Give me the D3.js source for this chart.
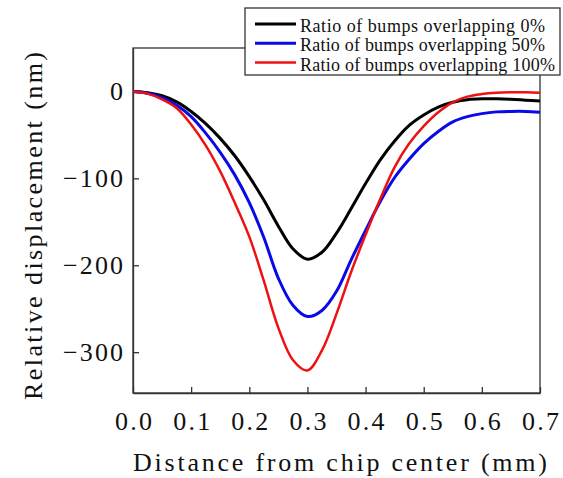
<!DOCTYPE html>
<html>
<head>
<meta charset="utf-8">
<script src="https://cdn.jsdelivr.net/npm/d3@7"></script>
<style>
  body { margin: 0; background: #fff; }
  text { font-family: "Liberation Serif", "Times New Roman", serif; fill: #111; }
</style>
</head>
<body>
<div id="chart"></div>
<script>
// distance from chip center (mm)
const xs = [0, 0.025, 0.05, 0.075, 0.1, 0.125, 0.15, 0.175, 0.2, 0.225, 0.25, 0.275, 0.3,
            0.325, 0.35, 0.375, 0.4, 0.425, 0.45, 0.475, 0.5, 0.525, 0.55, 0.575, 0.6,
            0.625, 0.65, 0.675, 0.7];

// relative displacement (nm)
const overlap0 = [0, -1.5, -5, -12, -23, -37, -54, -74, -98, -125, -155, -181, -193,
                  -185, -163, -135, -106, -79, -57, -39, -27, -18, -12.5, -9.5, -8.5,
                  -8.5, -9, -10, -11];
const overlap50 = [0, -2, -7, -16, -29, -48, -70, -96, -128, -168, -215, -246, -259,
                   -252, -230, -194, -160, -127, -99, -78, -60, -46, -35, -29, -25.5,
                   -23.5, -23, -23, -24];
const overlap100 = [0, -2.5, -9, -19, -38, -62, -92, -128, -167, -218, -272, -309, -321,
                    -298, -256, -208, -165, -124, -87, -60, -40, -24, -12.5, -6, -3,
                    -1.5, -1, -1, -1.5];

const seriesNames = ["Ratio of bumps overlapping 0%", "Ratio of bumps overlapping 50%", "Ratio of bumps overlapping 100%"];
const seriesColors = ["#000000", "#0a0ae6", "#ee1111"];
const xTicks = [0, 0.1, 0.2, 0.3, 0.4, 0.5, 0.6, 0.7];
const yTicks = [0, -100, -200, -300];
const xTitle = "Distance from chip center (mm)";
const yTitle = "Relative displacement (nm)";

const W = 563, H = 478;
const margin = {top: 48, right: 23, bottom: 85, left: 133};
const width = W - margin.left - margin.right,
      height = H - margin.top - margin.bottom;

const svg = d3.select("#chart").append("svg")
    .attr("width", W)
    .attr("height", H);

const g = svg.append("g")
    .attr("transform", "translate(" + margin.left + "," + margin.top + ")");

const x = d3.scaleLinear().domain([0, 0.7]).range([0, width]);
const y = d3.scaleLinear().domain([-347, 50]).range([height, 0]);

// frame
g.append("rect")
    .attr("width", width)
    .attr("height", height)
    .attr("fill", "none")
    .attr("stroke", "#333")
    .attr("stroke-width", 1.3);

const xAxis = g.append("g")
    .attr("transform", "translate(0," + height + ")")
    .call(d3.axisBottom(x).tickValues(xTicks).tickFormat(d3.format(".1f"))
        .tickSize(-6).tickSizeOuter(0).tickPadding(19));
xAxis.select(".domain").attr("stroke", "#333").attr("stroke-width", 1.3);
xAxis.selectAll(".tick line").attr("stroke", "#333").attr("stroke-width", 1.3);
xAxis.selectAll(".tick text")
    .attr("font-size", 26)
    .attr("font-family", "Liberation Serif")
    .attr("fill", "#111")
    .attr("textLength", 37)
    .attr("lengthAdjust", "spacing");

const yAxis = g.append("g")
    .call(d3.axisLeft(y).tickValues(yTicks).tickFormat(d3.format("d"))
        .tickSize(-6).tickSizeOuter(0).tickPadding(10));
yAxis.select(".domain").attr("stroke", "#333").attr("stroke-width", 1.3);
yAxis.selectAll(".tick line").attr("stroke", "#333").attr("stroke-width", 1.3);
yAxis.selectAll(".tick text")
    .attr("font-size", 26)
    .attr("font-family", "Liberation Serif")
    .attr("fill", "#111")
    .each(function(d) {
        if (d !== 0) d3.select(this).attr("textLength", 60).attr("lengthAdjust", "spacing");
    });

// curves
const allSeries = [overlap0, overlap50, overlap100];
const line = d3.line()
    .x((d, i) => x(xs[i]))
    .y(d => y(d))
    .curve(d3.curveCatmullRom.alpha(0.5));

const widths = [3, 3, 2.5];
g.selectAll(".curve")
    .data(allSeries)
    .enter().append("path")
    .attr("class", "curve")
    .attr("d", d => line(d))
    .attr("fill", "none")
    .attr("stroke", (d, i) => seriesColors[i])
    .attr("stroke-width", (d, i) => widths[i])
    .attr("stroke-linejoin", "round");

// axis titles
svg.append("text")
    .attr("x", 340)
    .attr("y", 471)
    .attr("text-anchor", "middle")
    .attr("font-size", 26)
    .attr("textLength", 414)
    .attr("lengthAdjust", "spacing")
    .text(xTitle);

svg.append("text")
    .attr("transform", "translate(42,226) rotate(-90)")
    .attr("text-anchor", "middle")
    .attr("font-size", 26)
    .attr("textLength", 348)
    .attr("lengthAdjust", "spacing")
    .text(yTitle);

// legend
const legend = svg.append("g");
legend.append("rect")
    .attr("x", 245)
    .attr("y", 8)
    .attr("width", 315)
    .attr("height", 67)
    .attr("fill", "#fff")
    .attr("stroke", "#333")
    .attr("stroke-width", 1.3);

const rows = legend.selectAll(".row")
    .data(seriesNames)
    .enter().append("g")
    .attr("transform", (d, i) => "translate(0," + (24 + i * 19.3) + ")");

rows.append("line")
    .attr("x1", 255).attr("x2", 296)
    .attr("stroke", (d, i) => seriesColors[i])
    .attr("stroke-width", (d, i) => widths[i]);

rows.append("text")
    .attr("x", 300)
    .attr("y", 8)
    .attr("font-size", 18)
    .attr("textLength", (d, i) => i === 2 ? 255 : 245)
    .attr("lengthAdjust", "spacing")
    .text(d => d);
</script>
</body>
</html>
